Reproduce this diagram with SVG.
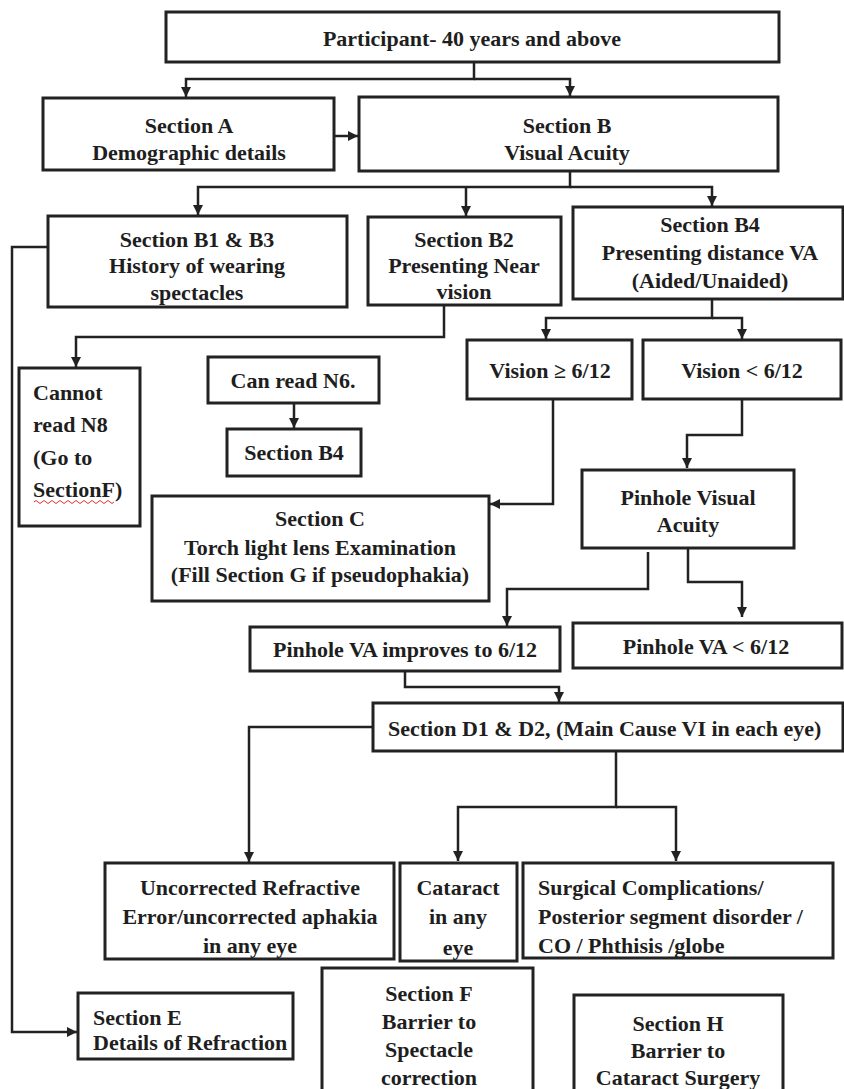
<svg xmlns="http://www.w3.org/2000/svg" width="844" height="1089" viewBox="0 0 844 1089">
<style>
.box{fill:#fff;stroke:#222;stroke-width:3}
.t{font-family:"Liberation Serif","Times New Roman",serif;font-weight:bold;font-size:22px;fill:#1e1e1e}
.c{text-anchor:middle}
.ln{fill:none;stroke:#222;stroke-width:2.5}
</style>
<defs>
<marker id="ah" markerWidth="10" markerHeight="10" refX="10" refY="5" orient="auto" markerUnits="userSpaceOnUse"><path d="M0,0 L10,5 L0,10 z" fill="#222"/></marker>
</defs>
<rect width="844" height="1089" fill="#fff"/>
<g id="connectors">
<path class="ln" d="M474,62 V79 H186 V97" marker-end="url(#ah)"/>
<path class="ln" d="M474,79 H570 V96" marker-end="url(#ah)"/>
<path class="ln" d="M334,136 H358" marker-end="url(#ah)"/>
<path class="ln" d="M570,171 V187 H198 V215" marker-end="url(#ah)"/>
<path class="ln" d="M466,187 V216" marker-end="url(#ah)"/>
<path class="ln" d="M570,187 H712 V206" marker-end="url(#ah)"/>
<path class="ln" d="M272,284 V305" marker-end="url(#ah)"/>
<path class="ln" d="M48,247 H12 V1032 H77" marker-end="url(#ah)"/>
<path class="ln" d="M444,305 V337 H76 V367" marker-end="url(#ah)"/>
<path class="ln" d="M712,299 V318 H546 V339" marker-end="url(#ah)"/>
<path class="ln" d="M712,318 H742 V339" marker-end="url(#ah)"/>
<path class="ln" d="M294,403 V428" marker-end="url(#ah)"/>
<path class="ln" d="M553,400 V504 H490" marker-end="url(#ah)"/>
<path class="ln" d="M742,400 V435 H687 V468" marker-end="url(#ah)"/>
<path class="ln" d="M648,552 V589 H507 V626" marker-end="url(#ah)"/>
<path class="ln" d="M688,548 V582 H742 V617" marker-end="url(#ah)"/>
<path class="ln" d="M405,671 V687 H559 V702" marker-end="url(#ah)"/>
<path class="ln" d="M373,727 H249 V862" marker-end="url(#ah)"/>
<path class="ln" d="M616,751 V807 H458 V861" marker-end="url(#ah)"/>
<path class="ln" d="M616,807 H676 V861" marker-end="url(#ah)"/>
</g>
<g id="participant"><rect class="box" x="166" y="12" width="613" height="50"/><text class="t c" x="472" y="46">Participant- 40 years and above</text></g>
<g id="sectionA"><rect class="box" x="43" y="98" width="291" height="72"/><text class="t c" x="189" y="133">Section A</text><text class="t c" x="189" y="160">Demographic details</text></g>
<g id="sectionB"><rect class="box" x="359" y="97" width="419" height="74"/><text class="t c" x="567" y="133">Section B</text><text class="t c" x="567" y="160">Visual Acuity</text></g>
<g id="sectionB1B3"><rect class="box" x="48" y="216" width="299" height="91"/><text class="t c" x="197" y="247">Section B1 &amp; B3</text><text class="t c" x="197" y="273">History of wearing</text><text class="t c" x="197" y="300">spectacles</text></g>
<g id="sectionB2"><rect class="box" x="368" y="217" width="193" height="88"/><text class="t c" x="464" y="247">Section B2</text><text class="t c" x="464" y="273">Presenting Near</text><text class="t c" x="464" y="299">vision</text></g>
<g id="sectionB4"><rect class="box" x="573" y="207" width="270" height="92"/><text class="t c" x="710" y="232">Section B4</text><text class="t c" x="710" y="260">Presenting distance VA</text><text class="t c" x="710" y="288">(Aided/Unaided)</text></g>
<g id="cannotRead"><rect class="box" x="19" y="368" width="121" height="158"/><text class="t" x="33" y="400">Cannot</text><text class="t" x="33" y="432">read N8</text><text class="t" x="33" y="465">(Go to</text><text class="t" x="33" y="497">SectionF)</text><path d="M34,502 q2,-3 4,0 t4,0 t4,0 t4,0 t4,0 t4,0 t4,0 t4,0 t4,0 t4,0 t4,0 t4,0 t4,0 t4,0 t4,0 t4,0 t4,0 t4,0 t4,0 t4,0" fill="none" stroke="#e03030" stroke-width="1"/></g>
<g id="canRead"><rect class="box" x="208" y="357" width="171" height="46"/><text class="t c" x="293" y="388">Can read N6.</text></g>
<g id="sectionB4small"><rect class="box" x="227" y="429" width="134" height="47"/><text class="t c" x="294" y="460">Section B4</text></g>
<g id="visionGe"><rect class="box" x="467" y="340" width="165" height="59"/><text class="t c" x="550" y="378">Vision ≥ 6/12</text></g>
<g id="visionLt"><rect class="box" x="643" y="340" width="198" height="59"/><text class="t c" x="742" y="378">Vision &lt; 6/12</text></g>
<g id="sectionC"><rect class="box" x="152" y="496" width="337" height="105"/><text class="t c" x="320" y="526">Section C</text><text class="t c" x="320" y="555">Torch light lens Examination</text><text class="t c" x="320" y="582">(Fill Section G if pseudophakia)</text></g>
<g id="pinhole"><rect class="box" x="582" y="470" width="212" height="78"/><text class="t c" x="688" y="505">Pinhole Visual</text><text class="t c" x="688" y="532">Acuity</text></g>
<g id="pinholeImproves"><rect class="box" x="250" y="627" width="310" height="44"/><text class="t c" x="405" y="657">Pinhole VA improves to 6/12</text></g>
<g id="pinholeLt"><rect class="box" x="573" y="623" width="269" height="45"/><text class="t c" x="706" y="654">Pinhole VA &lt; 6/12</text></g>
<g id="sectionD"><rect class="box" x="373" y="703" width="470" height="48"/><text class="t" x="388" y="736">Section D1 &amp; D2, (Main Cause VI in each eye)</text></g>
<g id="uncorrected"><rect class="box" x="105" y="863" width="289" height="96"/><text class="t c" x="250" y="895">Uncorrected Refractive</text><text class="t c" x="250" y="924">Error/uncorrected aphakia</text><text class="t c" x="250" y="953">in any eye</text></g>
<g id="cataract"><rect class="box" x="400" y="863" width="117" height="98"/><text class="t c" x="458" y="895">Cataract</text><text class="t c" x="458" y="924">in any</text><text class="t c" x="458" y="955">eye</text></g>
<g id="surgical"><rect class="box" x="523" y="863" width="310" height="95"/><text class="t" x="538" y="895">Surgical Complications/</text><text class="t" x="538" y="924">Posterior segment disorder /</text><text class="t" x="538" y="953">CO / Phthisis /globe</text></g>
<g id="sectionE"><rect class="box" x="78" y="993" width="215" height="66"/><text class="t" x="93" y="1025">Section E</text><text class="t" x="93" y="1050">Details of Refraction</text></g>
<g id="sectionF"><rect class="box" x="322" y="968" width="211" height="130"/><text class="t c" x="429" y="1001">Section F</text><text class="t c" x="429" y="1029">Barrier to</text><text class="t c" x="429" y="1057">Spectacle</text><text class="t c" x="429" y="1085">correction</text></g>
<g id="sectionH"><rect class="box" x="574" y="995" width="209" height="105"/><text class="t c" x="678" y="1031">Section H</text><text class="t c" x="678" y="1058">Barrier to</text><text class="t c" x="678" y="1085">Cataract Surgery</text></g>
</svg>
